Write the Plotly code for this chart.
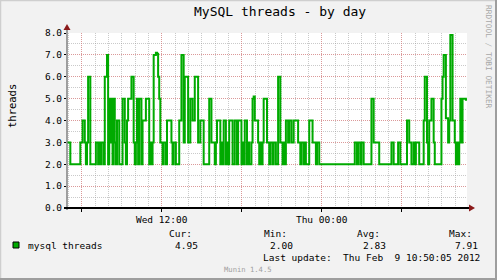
import plotly.graph_objects as go
import pandas as pd

# ---------------- data ----------------
threads = [
    3, 3, 3, 2, 2, 2, 2, 2, 2, 2, 2, 2, 3, 3, 4, 4, 3, 2, 3, 6,
    6, 2, 2, 2, 2, 2, 3, 3, 2, 3, 2, 3, 3, 2, 6, 6, 7, 2, 5, 3,
    5, 2, 5, 3, 2, 4, 4, 2, 2, 2, 5, 5, 3, 2, 4, 5, 5, 5, 6, 6,
    3, 2, 3, 5, 2, 5, 5, 2, 4, 4, 4, 5, 5, 5, 2, 3, 2, 3, 7, 7,
    7.1, 7.05, 6, 5, 3, 3, 2, 3, 3, 2, 4, 4, 4, 4, 3, 2, 3, 3, 2, 2,
    2, 4, 4, 7, 7, 3, 6, 6, 6, 3, 3, 5, 5, 4, 4, 6, 6, 6, 3, 3,
    4, 4, 4, 2, 2, 2, 2, 2, 5, 5, 3, 3, 3, 2, 3, 4, 4, 4, 2, 3,
    2, 4, 4, 2, 3, 2, 4, 4, 4, 2, 2, 4, 4, 2, 4, 4, 4, 2, 3, 2,
    4, 4, 2, 3, 2, 2, 3, 5, 5.1, 4, 4, 4, 3, 2, 3, 2, 3, 5, 5, 5,
    3, 3, 2, 3, 3, 2, 3, 3, 2, 2, 6, 6, 3, 3, 2, 3, 2, 4, 4, 3,
    4, 4, 3, 3, 4, 4, 4, 4, 3, 3, 2, 3, 3, 2, 3, 2, 2, 2, 4, 4,
    4, 3, 3, 3, 2, 3, 3, 2, 2, 2, 2, 2, 2, 2, 2, 2, 2, 2, 2, 2,
    2, 2, 2, 2, 2, 2, 2, 2, 2, 2, 2, 2, 2, 2, 2, 2, 2, 2, 2, 3,
    3, 2, 3, 3, 2, 3, 3, 2, 2, 2, 2, 2, 2, 2, 5, 5, 3, 3, 3, 3,
    3, 2, 2, 2, 2, 2, 2, 2, 2, 2, 2, 2, 3, 3, 2, 2, 2, 2, 3, 3,
    2, 2, 2, 2, 2, 2, 4, 4, 3, 3, 2, 2, 3, 2, 3, 3, 3, 2, 2, 2,
    2, 4, 6, 6, 3, 2, 4, 4, 5, 5, 3, 2, 2, 2, 2, 2, 2, 5, 6, 7,
    7, 4.1, 4.1, 3, 4, 7.91, 7.91, 4, 4, 3, 2, 3, 2, 3, 5, 3, 5, 5, 5, 4.95,
]
start_time = "2012-02-08 04:54:00"
end_time = "2012-02-09 10:54:00"
step = "5min"

x_tick_vals = ["2012-02-08 06:00", "2012-02-08 12:00", "2012-02-08 18:00",
               "2012-02-09 00:00", "2012-02-09 06:00"]
x_tick_text = ["", "Wed 12:00", "", "Thu 00:00", ""]
y_tick_vals = [0, 1, 2, 3, 4, 5, 6, 7, 8]
y_tick_text = ["0.0", "1.0", "2.0", "3.0", "4.0", "5.0", "6.0", "7.0", "8.0"]

series_name = "mysql threads"
stat_labels = ["Cur:", "Min:", "Avg:", "Max:"]
stat_values = ["4.95", "2.00", "2.83", "7.91"]
last_update = "Last update:  Thu Feb  9 10:50:05 2012"

# ---------------- layout geometry (pixels) ----------------
W, H = 497, 280
L, R, T, B = 67, 467, 33, 208
GREEN = "#00AA00"
MONO = "DejaVu Sans Mono"


def px(x):
    return (x - L) / (R - L)


def py(y):
    return (B - y) / (B - T)


edges = pd.date_range(start_time, periods=len(threads) + 1, freq=step)
yvals = threads + [threads[-1]]

fig = go.Figure()
fig.add_trace(go.Scatter(
    x=edges, y=yvals, mode="lines", line=dict(color=GREEN, width=2, shape="hv"),
    showlegend=False, hoverinfo="skip"))

major_grid = "rgba(230,120,120,0.6)"
minor_grid = "rgba(150,150,150,0.5)"

fig.update_layout(
    width=W, height=H,
    margin=dict(l=L, r=W - R, t=T, b=H - B),
    paper_bgcolor="#F2F2F2", plot_bgcolor="#FFFFFF",
    font=dict(family=MONO, size=10, color="#000000"),
    xaxis=dict(
        range=[start_time, end_time], type="date",
        tickmode="array", tickvals=x_tick_vals, ticktext=x_tick_text,
        showgrid=True, gridcolor=major_grid, griddash="1px,1px", gridwidth=1,
        ticks="outside", ticklen=3, tickcolor="#000000",
        tickfont=dict(family=MONO, size=9.5),
        minor=dict(dtick=3600000, tick0="2012-02-08 00:00", showgrid=True,
                   gridcolor=minor_grid, griddash="1px,1px", ticks=""),
        showline=False, zeroline=False, fixedrange=True,
    ),
    yaxis=dict(
        range=[0, 8], tickmode="array", tickvals=y_tick_vals, ticktext=y_tick_text,
        showgrid=True, gridcolor=major_grid, griddash="1px,1px", gridwidth=1,
        ticks="outside", ticklen=2, tickcolor="#000000",
        tickfont=dict(family=MONO, size=9.5),
        minor=dict(dtick=0.5, showgrid=True, gridcolor=minor_grid,
                   griddash="1px,1px", ticks=""),
        showline=False, zeroline=False, fixedrange=True,
    ),
)

shapes = []
# y axis line (gray) with arrow head on top
shapes.append(dict(type="line", xref="paper", yref="paper", x0=0, x1=0,
                   y0=py(B + 2), y1=py(T - 4), line=dict(color="#808080", width=1.5)))
shapes.append(dict(type="path", xref="paper", yref="paper",
                   path=f"M {px(L-3.5)} {py(T-3)} L {px(L+3.5)} {py(T-3)} L {px(L)} {py(T-9)} Z",
                   fillcolor="#8B1A1A", line=dict(width=0)))
# x axis line (black) with arrow head at right
shapes.append(dict(type="line", xref="paper", yref="paper", x0=px(L - 3), x1=px(R + 3),
                   y0=0, y1=0, line=dict(color="#000000", width=2)))
shapes.append(dict(type="path", xref="paper", yref="paper",
                   path=f"M {px(R+2)} {py(B-3.5)} L {px(R+2)} {py(B+3.5)} L {px(R+8)} {py(B)} Z",
                   fillcolor="#8B1A1A", line=dict(width=0)))
# legend colour box
shapes.append(dict(type="rect", xref="paper", yref="paper",
                   x0=px(13), x1=px(19), y0=py(248), y1=py(242),
                   fillcolor=GREEN, line=dict(color="#000000", width=1)))
# frame shading
shapes.append(dict(type="line", xref="paper", yref="paper", x0=px(0.5), x1=px(0.5),
                   y0=py(0), y1=py(H), line=dict(color="#CFCFCF", width=1.5)))
shapes.append(dict(type="line", xref="paper", yref="paper", x0=px(0), x1=px(W),
                   y0=py(0.5), y1=py(0.5), line=dict(color="#CFCFCF", width=1.5)))
shapes.append(dict(type="line", xref="paper", yref="paper", x0=px(W - 1), x1=px(W - 1),
                   y0=py(0), y1=py(H), line=dict(color="#9E9E9E", width=2)))
shapes.append(dict(type="line", xref="paper", yref="paper", x0=px(0), x1=px(W),
                   y0=py(H - 1), y1=py(H - 1), line=dict(color="#9E9E9E", width=2)))
fig.update_layout(shapes=shapes)


def nb(s):
    return s.replace(" ", "\u00a0")


ann = []
ann.append(dict(text=nb("MySQL threads - by day"), x=px(280), y=py(12), xref="paper", yref="paper",
                showarrow=False, xanchor="center", yanchor="middle",
                font=dict(family=MONO, size=13, color="#000000")))
ann.append(dict(text="threads", x=px(12), y=py(106), xref="paper", yref="paper",
                showarrow=False, xanchor="center", yanchor="middle", textangle=-90,
                font=dict(family=MONO, size=10.5, color="#000000")))
ann.append(dict(text=nb("RRDTOOL / TOBI OETIKER"), x=px(489), y=py(57), xref="paper", yref="paper",
                showarrow=False, xanchor="center", yanchor="middle", textangle=90,
                font=dict(family=MONO, size=7.8, color="#A8A8A8")))
stat_label_x = [167, 262, 355, 447]
stat_value_x = [173, 268, 361, 453]
for lab, lx in zip(stat_labels, stat_label_x):
    ann.append(dict(text=lab, x=px(lx), y=py(233), xref="paper", yref="paper",
                    showarrow=False, xanchor="left", yanchor="middle",
                    font=dict(family=MONO, size=9.5)))
for val, vx in zip(stat_values, stat_value_x):
    ann.append(dict(text=val, x=px(vx), y=py(245), xref="paper", yref="paper",
                    showarrow=False, xanchor="left", yanchor="middle",
                    font=dict(family=MONO, size=9.5)))
ann.append(dict(text=nb(series_name), x=px(26), y=py(245), xref="paper", yref="paper",
                showarrow=False, xanchor="left", yanchor="middle",
                font=dict(family=MONO, size=9.5)))
ann.append(dict(text=nb(last_update), x=px(261), y=py(257), xref="paper", yref="paper",
                showarrow=False, xanchor="left", yanchor="middle",
                font=dict(family=MONO, size=9.5)))
ann.append(dict(text=nb("Munin 1.4.5"), x=px(248), y=py(269), xref="paper", yref="paper",
                showarrow=False, xanchor="center", yanchor="middle",
                font=dict(family=MONO, size=7.2, color="#A0A0A0")))
fig.update_layout(annotations=ann)

fig.write_html("out.html")
